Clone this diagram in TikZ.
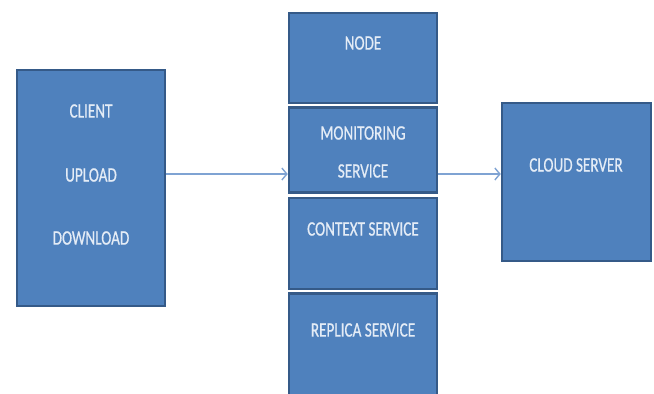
\documentclass[tikz,border=0pt]{standalone}
\usepackage{fontspec}
\setmainfont{Carlito}
\newfontfamily\lblfont[FakeBold=0.8]{Carlito}
\usetikzlibrary{arrows.meta}
\definecolor{boxfill}{HTML}{4F81BD}
\definecolor{boxline}{HTML}{355A88}
\definecolor{arrowc}{HTML}{7FA3D3}
\definecolor{txt}{HTML}{E4ECF6}
\tikzset{
  box/.style={draw=boxline, line width=2.5pt, fill=boxfill, rectangle, inner sep=0pt},
  lbl/.style={text=txt, font=\lblfont\fontsize{20.5}{21}\selectfont, xscale=0.74, inner sep=0pt, anchor=center},
  conn/.style={draw=arrowc, line width=1.8pt, -{Straight Barb[length=5pt,width=12pt,line width=1.4pt]}}
}
\begin{document}
\begin{tikzpicture}[x=1pt,y=-1pt]
\useasboundingbox (0,0) rectangle (654,394);
\clip (0,0) rectangle (654,394);
\fill[white] (0,0) rectangle (654,394);
% boxes
\node[box, minimum width=148pt, minimum height=236pt] (client) at (91,188) {};
\node[box, minimum width=148pt, minimum height=90pt] (node) at (363,58) {};
\node[box, minimum width=148pt, minimum height=85pt] (mon) at (363,150) {};
\node[box, minimum width=148pt, minimum height=91pt] (ctx) at (363,243.5) {};
\node[box, minimum width=148pt, minimum height=109pt] (rep) at (363,348) {};
\node[box, minimum width=149pt, minimum height=158pt] (cloud) at (576.5,182) {};
% texts
\node[lbl] (t1) at (91,111) {CLIENT};
\node[lbl] (t2) at (91,175) {UPLOAD};
\node[lbl] (t3) at (91,238) {DOWNLOAD};
\node[lbl] (t4) at (363,43) {NODE};
\node[lbl] (t5) at (363,133) {MONITORING};
\node[lbl] (t6) at (363,171) {SERVICE};
\node[lbl] (t7) at (363,229) {CONTEXT SERVICE};
\node[lbl] (t8) at (363,330) {REPLICA SERVICE};
\node[lbl] (t9) at (576,165) {CLOUD SERVER};
% connectors
\coordinate (a1) at (client.east |- 0,174);
\coordinate (a2) at (mon.west |- 0,174);
\coordinate (b1) at (mon.east |- 0,174);
\coordinate (b2) at (cloud.west |- 0,174);
\draw[conn] (a1) -- (a2);
\draw[conn] (b1) -- (b2);
\end{tikzpicture}
\end{document}
